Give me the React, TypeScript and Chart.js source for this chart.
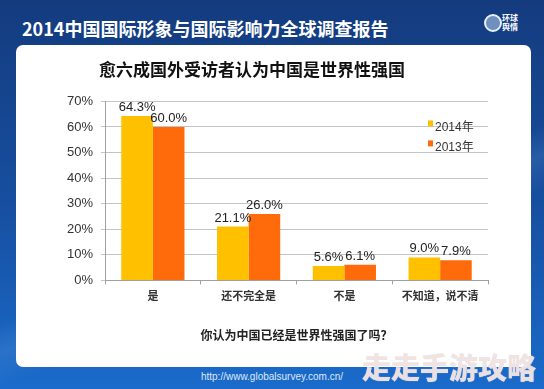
import React, { useEffect, useRef } from 'react';
import { Chart, registerables } from 'chart.js';

Chart.register(...registerables);

const categories = ['是', '还不完全是', '不是', '不知道，说不清'];
const seriesNames = ['2014年', '2013年'];
const values2014 = [64.3, 21.1, 5.6, 9.0];
const values2013 = [60.0, 26.0, 6.1, 7.9];
const seriesColors = ['#FFC000', '#FF6A0A'];
const yMax = 70;
const yStep = 10;

const headerTitle = '2014中国国际形象与国际影响力全球调查报告';
const chartTitle = '愈六成国外受访者认为中国是世界性强国';
const xAxisTitle = '你认为中国已经是世界性强国了吗？';
const footerUrl = 'http://www.globalsurvey.com.cn/';
const watermark = '走走手游攻略';
const logoText = ['环球', '舆情'];

const FONT = "'Liberation Sans', 'Noto Sans CJK SC', Arial, sans-serif";
const CJK = "'Noto Sans CJK SC', 'Liberation Sans', sans-serif";

const valueLabelPlugin = {
  id: 'valueLabels',
  afterDatasetsDraw(chart: any) {
    const ctx = chart.ctx;
    ctx.save();
    ctx.font = `13px ${FONT}`;
    ctx.fillStyle = '#222';
    ctx.textAlign = 'center';
    ctx.textBaseline = 'bottom';
    chart.data.datasets.forEach((ds: any, di: number) => {
      const meta = chart.getDatasetMeta(di);
      meta.data.forEach((bar: any, i: number) => {
        ctx.fillText(Number(ds.data[i]).toFixed(1) + '%', bar.x, bar.y - 2);
      });
    });
    ctx.restore();
  },
};

const innerLegendPlugin = {
  id: 'innerLegend',
  afterDraw(chart: any) {
    const { ctx, chartArea } = chart;
    ctx.save();
    ctx.font = `12px ${FONT}`;
    ctx.textBaseline = 'middle';
    ctx.textAlign = 'left';
    chart.data.datasets.forEach((ds: any, i: number) => {
      const x = chartArea.right - 60;
      const y = chartArea.top + 19 + i * 20;
      ctx.fillStyle = ds.backgroundColor;
      ctx.fillRect(x, y, 5, 6);
      ctx.fillStyle = '#333';
      ctx.fillText(ds.label, x + 7, y + 7);
    });
    ctx.restore();
  },
};

function BarChart() {
  const ref = useRef<HTMLCanvasElement | null>(null);
  useEffect(() => {
    if (!ref.current) return;
    const chart = new Chart(ref.current, {
      type: 'bar',
      data: {
        labels: categories,
        datasets: [
          { label: seriesNames[0], data: values2014, backgroundColor: seriesColors[0], categoryPercentage: 0.66, barPercentage: 1.0 },
          { label: seriesNames[1], data: values2013, backgroundColor: seriesColors[1], categoryPercentage: 0.66, barPercentage: 1.0 },
        ],
      },
      options: {
        animation: false,
        responsive: false,
        maintainAspectRatio: false,
        layout: { padding: { left: 0, right: 43, top: 0, bottom: 0 } },
        plugins: {
          legend: { display: false },
          tooltip: { enabled: false },
          title: {
            display: true,
            text: chartTitle,
            color: '#111',
            font: { family: CJK, size: 17, weight: 'bold' },
            padding: { top: 14, bottom: 22 },
          },
        },
        scales: {
          x: {
            grid: { display: true, drawOnChartArea: false, drawTicks: true, tickLength: 4, color: '#a0a0a0' },
            border: { display: true, color: '#a0a0a0' },
            ticks: { color: '#333', font: { family: CJK, size: 11, weight: 'bold' }, padding: 5, maxRotation: 0 },
            title: {
              display: true,
              text: xAxisTitle,
              color: '#222',
              font: { family: CJK, size: 12, weight: 'bold' },
              padding: { top: 21, bottom: 10 },
            },
          },
          y: {
            min: 0,
            max: yMax,
            afterFit: (s: any) => { s.width = 89; },
            grid: { color: '#c4c4c4', lineWidth: 1, tickLength: 4 },
            border: { display: true, color: '#a0a0a0' },
            ticks: {
              stepSize: yStep,
              color: '#333',
              padding: 8,
              font: { family: FONT, size: 13 },
              callback: (v: any) => v + '%',
            },
          },
        },
      },
      plugins: [valueLabelPlugin, innerLegendPlugin],
    });
    return () => chart.destroy();
  }, []);
  return <canvas ref={ref} width={515} height={308} style={{ display: 'block', width: 515, height: 308 }} />;
}

export default function App() {
  return (
    <div
      style={{
        position: 'fixed',
        left: 0,
        top: 0,
        width: 544,
        height: 389,
        overflow: 'hidden',
        background:
          'linear-gradient(160deg, rgba(255,255,255,0) 55%, rgba(120,170,230,0.18) 60%, rgba(255,255,255,0) 66%), linear-gradient(180deg, #143b7e 0%, #1750a2 55%, #1a6bcb 100%)',
        fontFamily: FONT,
      }}
    >
      <div
        style={{
          position: 'absolute',
          left: 22,
          top: 15,
          color: '#fff',
          fontFamily: CJK,
          fontWeight: 'bold',
          fontSize: 18,
          lineHeight: '26px',
          whiteSpace: 'nowrap',
        }}
      >
        {headerTitle}
      </div>
      <div
        style={{
          position: 'absolute',
          left: 484,
          top: 14,
          width: 14,
          height: 14,
          borderRadius: '50%',
          border: '2px solid #e8eef8',
          background: '#6f8fbf',
        }}
      />
      <div
        style={{
          position: 'absolute',
          left: 502,
          top: 13,
          color: '#fff',
          fontFamily: CJK,
          fontWeight: 'bold',
          fontSize: 8,
          lineHeight: '9px',
        }}
      >
        <div>{logoText[0]}</div>
        <div>{logoText[1]}</div>
      </div>
      <div
        style={{
          position: 'absolute',
          left: 16,
          top: 45,
          width: 515,
          height: 322,
          background: '#fff',
          borderRadius: 7,
        }}
      >
        <BarChart />
      </div>
      <div
        style={{
          position: 'absolute',
          left: 0,
          width: 544,
          top: 371,
          textAlign: 'center',
          color: '#dfe8f5',
          fontSize: 10,
          paddingRight: 6,
        }}
      >
        {footerUrl}
      </div>
      <div
        style={{
          position: 'absolute',
          left: 362,
          top: 349,
          color: 'rgba(238,226,226,0.95)',
          fontFamily: CJK,
          fontWeight: 900,
          fontSize: 29,
          lineHeight: '34px',
          whiteSpace: 'nowrap',
          textShadow: '0 0 1px rgba(255,255,255,0.6)',
        }}
      >
        {watermark}
      </div>
    </div>
  );
}
